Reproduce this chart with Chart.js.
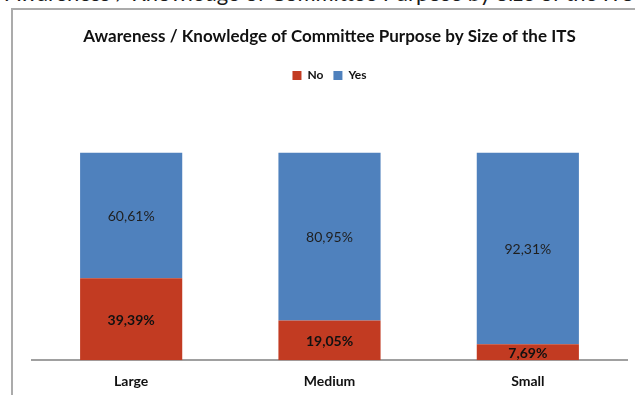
<!DOCTYPE html>
<html>
<head>
<meta charset="utf-8">
<script src="https://cdn.jsdelivr.net/npm/chart.js@4"></script>
<style>
  html, body { margin: 0; padding: 0; background: #fff; overflow: hidden; }
  body { width: 635px; height: 395px; position: relative; }
  /* caption line of the surrounding page, cut off at the top */
  #caption {
    position: absolute; left: -20px; right: 0; top: -21px;
    text-align: center; white-space: nowrap;
    font: 22px Lato, sans-serif; color: #1a1a1a;
  }
  #frame {
    position: absolute; left: 11px; top: 8px; width: 640px; height: 400px;
    border-left: 2px solid #ababab; border-top: 2px solid #ababab;
  }
  #wrap { position: absolute; left: 0; top: 0; width: 635px; height: 395px; }
</style>
</head>
<body>
<div id="caption">of Awareness / Knowledge of Committee Purpose by Size of the ITS</div>
<div id="frame"></div>
<div id="wrap"><canvas id="chart"></canvas></div>
<script>
const categories = ["Large", "Medium", "Small"];
const noValues = [39.39, 19.05, 7.69];
const yesValues = [60.61, 80.95, 92.31];

const RED = "#c23b22";
const BLUE = "#4f81bd";

function fmtPct(v) {
  return v.toFixed(2).replace(".", ",") + "%";
}

// extra space under the legend
const legendGap = {
  id: "legendGap",
  beforeInit(chart) {
    const fit = chart.legend.fit;
    chart.legend.fit = function () {
      fit.bind(chart.legend)();
      this.height += 61;
    };
  },
};

// value labels in the middle of each segment
const segmentLabels = {
  id: "segmentLabels",
  afterDatasetsDraw(chart) {
    const ctx = chart.ctx;
    ctx.save();
    ctx.textAlign = "center";
    ctx.textBaseline = "middle";
    chart.data.datasets.forEach((ds, i) => {
      const meta = chart.getDatasetMeta(i);
      ctx.font = (i === 0 ? "bold " : "") + "14px Lato, sans-serif";
      ctx.fillStyle = i === 0 ? "#111" : "#1f1f1f";
      meta.data.forEach((bar, j) => {
        const y = (bar.y + bar.base) / 2;
        ctx.fillText(fmtPct(ds.data[j]), bar.x, y + 1);
      });
    });
    ctx.restore();
  },
};

new Chart(document.getElementById("chart"), {
  type: "bar",
  data: {
    labels: categories,
    datasets: [
      { label: "No", data: noValues, backgroundColor: RED },
      { label: "Yes", data: yesValues, backgroundColor: BLUE },
    ],
  },
  options: {
    responsive: true,
    maintainAspectRatio: false,
    animation: false,
    layout: { padding: { left: 32, right: 8, top: 0, bottom: -8 } },
    datasets: {
      bar: { barPercentage: 1, categoryPercentage: 0.515 },
    },
    plugins: {
      title: {
        display: true,
        text: "Awareness / Knowledge of Committee Purpose by Size of the ITS",
        color: "#111",
        font: { family: "Lato, sans-serif", size: 17, weight: "bold" },
        padding: { top: 26, bottom: 13 },
      },
      legend: {
        labels: {
          boxWidth: 9,
          boxHeight: 9,
          padding: 10,
          color: "#111",
          font: { family: "Lato, sans-serif", size: 12, weight: "bold" },
        },
      },
      tooltip: { enabled: false },
    },
    scales: {
      x: {
        stacked: true,
        grid: { display: false, drawTicks: false },
        border: { color: "#a0a0a0", width: 2 },
        ticks: {
          padding: 13,
          color: "#111",
          font: { family: "Lato, sans-serif", size: 14, weight: "bold" },
        },
      },
      y: {
        stacked: true,
        display: false,
        min: 0,
        max: 100,
      },
    },
  },
  plugins: [legendGap, segmentLabels],
});
</script>
</body>
</html>
